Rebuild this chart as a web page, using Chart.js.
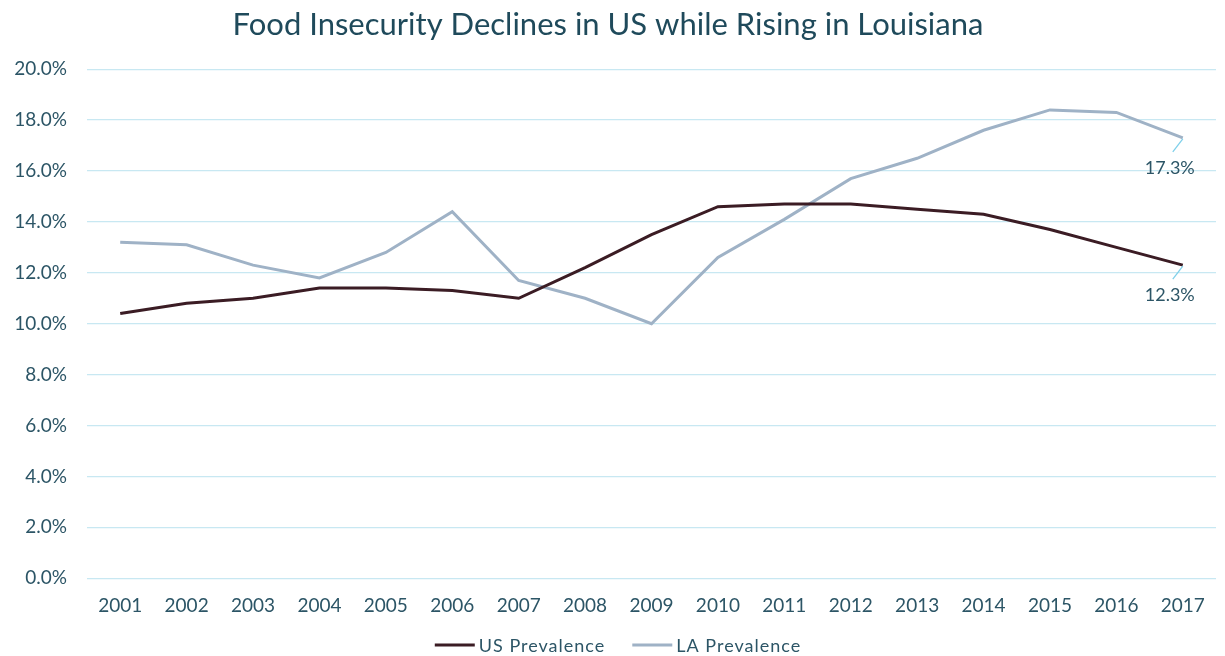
<!DOCTYPE html>
<html>
<head>
<meta charset="utf-8">
<script src="https://cdn.jsdelivr.net/npm/chart.js@4/dist/chart.umd.min.js"></script>
<style>
  html, body { margin: 0; padding: 0; background: #ffffff; }
  #wrap { width: 1225px; height: 656px; position: relative; }
</style>
</head>
<body>
<div id="wrap"><canvas id="c" width="1225" height="656"></canvas></div>
<script>
const years = ['2001','2002','2003','2004','2005','2006','2007','2008','2009','2010','2011','2012','2013','2014','2015','2016','2017'];
const usPrevalence = [10.4, 10.8, 11.0, 11.4, 11.4, 11.3, 11.0, 12.2, 13.5, 14.6, 14.7, 14.7, 14.5, 14.3, 13.7, 13.0, 12.3];
const laPrevalence = [13.2, 13.1, 12.3, 11.8, 12.8, 14.4, 11.7, 11.0, 10.0, 12.6, 14.1, 15.7, 16.5, 17.6, 18.4, 18.3, 17.3];
const yTicks = [0, 2, 4, 6, 8, 10, 12, 14, 16, 18, 20];

const TEXT = '#2c5566';
const FONT = 'Lato, "Open Sans", sans-serif';

const endLabels = {
  id: 'endLabels',
  afterDatasetsDraw(chart) {
    const ctx = chart.ctx;
    chart.data.datasets.forEach((ds, i) => {
      const meta = chart.getDatasetMeta(i);
      const last = meta.data[meta.data.length - 1];
      if (!last) return;
      const v = ds.data[ds.data.length - 1];
      ctx.save();
      ctx.strokeStyle = '#7fd0ea';
      ctx.lineWidth = 1.3;
      ctx.beginPath();
      ctx.moveTo(last.x, last.y + 1);
      ctx.lineTo(last.x - 10, last.y + 14);
      ctx.stroke();
      ctx.fillStyle = TEXT;
      ctx.font = '18px ' + FONT;
      ctx.textAlign = 'center';
      ctx.textBaseline = 'middle';
      ctx.fillText(v.toFixed(1) + '%', last.x - 13, last.y + 30);
      ctx.restore();
    });
  }
};

// Bottom legend drawn from the dataset labels/colours
const bottomLegend = {
  id: 'bottomLegend',
  afterDraw(chart) {
    const ctx = chart.ctx;
    const y = chart.height - 11;
    const lineW = 40, gapText = 4, gapItem = 27;
    ctx.save();
    ctx.font = '18px ' + FONT;
    if ('letterSpacing' in ctx) ctx.letterSpacing = '1px';
    ctx.textBaseline = 'middle';
    ctx.textAlign = 'left';
    const items = chart.data.datasets.map(ds => ({ label: ds.label, color: ds.borderColor, w: ctx.measureText(ds.label).width }));
    const total = items.reduce((s, it) => s + lineW + gapText + it.w, 0) + gapItem * (items.length - 1);
    let x = 618 - total / 2;
    items.forEach(it => {
      ctx.strokeStyle = it.color;
      ctx.lineWidth = 3;
      ctx.beginPath();
      ctx.moveTo(x, y);
      ctx.lineTo(x + lineW, y);
      ctx.stroke();
      ctx.fillStyle = TEXT;
      ctx.fillText(it.label, x + lineW + gapText, y + 1);
      x += lineW + gapText + it.w + gapItem;
    });
    ctx.restore();
  }
};

new Chart(document.getElementById('c'), {
  type: 'line',
  data: {
    labels: years,
    datasets: [
      { label: 'US Prevalence', data: usPrevalence, borderColor: '#3b1c24', backgroundColor: '#3b1c24', borderWidth: 3, pointRadius: 0, tension: 0 },
      { label: 'LA Prevalence', data: laPrevalence, borderColor: '#9fb2c6', backgroundColor: '#9fb2c6', borderWidth: 3, pointRadius: 0, tension: 0 }
    ]
  },
  options: {
    responsive: false,
    animation: false,
    devicePixelRatio: 1,
    layout: { padding: { left: 0, right: 9, top: 0, bottom: 23 } },
    plugins: {
      title: {
        display: true,
        text: 'Food Insecurity Declines in US while Rising in Louisiana',
        color: '#1f4a5b',
        font: { family: FONT, size: 31, weight: 'normal' },
        padding: { top: 6, bottom: 26 }
      },
      legend: { display: false },
      tooltip: { enabled: false }
    },
    scales: {
      x: {
        offset: true,
        grid: { display: false, drawTicks: false },
        border: { display: false },
        ticks: { color: TEXT, font: { family: FONT, size: 19 }, padding: 16, maxRotation: 0 }
      },
      y: {
        min: 0, max: 20,
        afterFit(scale) { scale.width = 87; },
        afterBuildTicks(scale) { scale.ticks = yTicks.map(v => ({ value: v })); },
        grid: { color: '#c8e8f2', lineWidth: 1.3, drawTicks: false },
        border: { display: false },
        ticks: {
          color: TEXT,
          font: { family: FONT, size: 19 },
          padding: 20,
          callback: v => Number(v).toFixed(1) + '%'
        }
      }
    }
  },
  plugins: [endLabels, bottomLegend]
});
</script>
</body>
</html>
